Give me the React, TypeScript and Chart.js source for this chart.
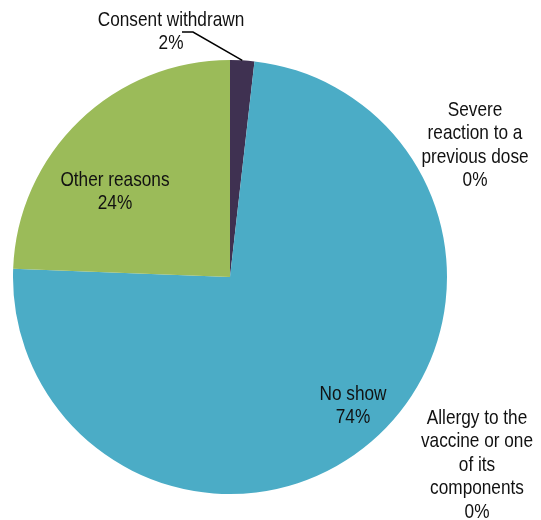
import React, { useEffect, useRef } from "react";
import { Chart, registerables } from "chart.js";

Chart.register(...registerables);

// ---- data ----
const categories = [
  "Consent withdrawn",
  "Severe reaction to a previous dose",
  "Allergy to the vaccine or one of its components",
  "No show",
  "Other reasons",
];
const values = [1.8, 0, 0, 73.8, 24.4];
const percentLabels = ["2%", "0%", "0%", "74%", "24%"];
const labelLines = [
  ["Consent withdrawn"],
  ["Severe", "reaction to a", "previous dose"],
  ["Allergy to the", "vaccine or one", "of its", "components"],
  ["No show"],
  ["Other reasons"],
];
const colors = ["#3F3151", "#C0504D", "#F79646", "#4BACC6", "#9BBB59"];

// ---- label layout (offsets from pie centre, px) ----
const labelOffsets = [
  [-59, -257],
  [245, -167],
  [247, 141],
  [123, 117],
  [-115, -97],
];
const LINE_H = 23.5;
const FONT = '21px "Liberation Sans", Arial, sans-serif';
const NARROW = 0.82;

const labelPlugin = {
  id: "pieLabels",
  afterDatasetsDraw(chart: any) {
    const ctx = chart.ctx;
    const meta = chart.getDatasetMeta(0);
    const arc0 = meta.data[0];
    const cx = arc0.x;
    const cy = arc0.y;
    ctx.save();
    // leader line for consent withdrawn
    const a = arc0;
    const mid = (a.startAngle + a.endAngle) / 2;
    const ex = cx + Math.cos(mid) * a.outerRadius;
    const ey = cy + Math.sin(mid) * a.outerRadius;
    ctx.strokeStyle = "#000";
    ctx.lineWidth = 1.5;
    ctx.beginPath();
    ctx.moveTo(cx - 48, cy - 245);
    ctx.lineTo(cx - 37, cy - 245);
    ctx.lineTo(ex, ey);
    ctx.stroke();

    ctx.font = FONT;
    ctx.fillStyle = "#111";
    ctx.textAlign = "center";
    ctx.textBaseline = "middle";
    labelLines.forEach((lines, i) => {
      const all = [...lines, percentLabels[i]];
      const [dx, dy] = labelOffsets[i];
      all.forEach((t, j) => {
        ctx.save();
        ctx.translate(cx + dx, cy + dy + j * LINE_H);
        ctx.scale(NARROW, 1);
        ctx.fillText(t, 0, 0);
        ctx.restore();
      });
    });
    ctx.restore();
  },
};

export default function App() {
  const ref = useRef<HTMLCanvasElement>(null);
  useEffect(() => {
    if (!ref.current) return;
    const chart = new Chart(ref.current, {
      type: "pie",
      data: {
        labels: categories,
        datasets: [
          {
            data: values,
            backgroundColor: colors,
            borderWidth: 0,
          },
        ],
      },
      options: {
        animation: false,
        responsive: false,
        devicePixelRatio: 1,
        layout: { padding: { top: 60, bottom: 26, left: 13, right: 94 } },
        plugins: {
          legend: { display: false },
          tooltip: { enabled: false },
        },
      },
      plugins: [labelPlugin],
    });
    return () => chart.destroy();
  }, []);
  return (
    <div style={{ position: "fixed", left: 0, top: 0, width: 541, height: 520, background: "#fff" }}>
      <canvas ref={ref} width={541} height={520} />
    </div>
  );
}
